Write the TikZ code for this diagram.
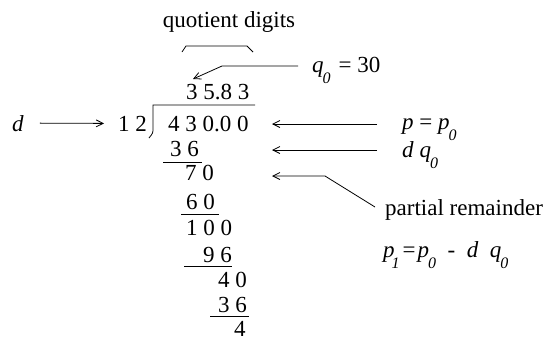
\documentclass[tikz,border=0pt]{standalone}
\usepackage{fontspec}
\setmainfont{Liberation Serif}
\usetikzlibrary{arrows.meta,positioning}
\newcommand{\lowidx}[1]{\kern-1pt\raisebox{-11pt}{\fontsize{16}{16}\selectfont\textit{#1}}}

\begin{document}
\begin{tikzpicture}[x=1pt,y=-1pt,
  row/.style={anchor=base west,inner sep=0pt,font=\fontsize{23}{27}\selectfont},
  lbl/.style={anchor=base west,inner sep=0pt,font=\fontsize{23}{27}\selectfont},
  conn/.style={-{Straight Barb[length=7pt,width=7pt]},line width=0.8pt},
  rule/.style={line width=0.8pt},
]
  \useasboundingbox (0,0) rectangle (545,341);

  % quotient bracket
  \node[lbl,anchor=base] (qd) at (229,27) {quotient digits};
  \draw[rule] (182,52) -- (186,46) -- (247,46) -- (253,52);

  % long division rows
  \node[row] (quot) at (186,99) {3 5.8 3};
  \node[row] (dvs) at (118,131) {1 2};
  \node[row] (dvd) at (168,131) {4 3 0.0 0};
  \node[row] (r1) at (170,156) {3 6};
  \node[row] (r2) at (185,180) {7 0};
  \node[row] (r3) at (186,209) {6 0};
  \node[row] (r4) at (186,235) {1 0 0};
  \node[row] (r5) at (203,262) {9 6};
  \node[row] (r6) at (218,287) {4 0};
  \node[row] (r7) at (218,312) {3 6};
  \node[row] (r8) at (234,336) {4};

  \draw[rule] (149,138) .. controls (153,133) .. (153,128) -- (153,105) -- (255,105);
  \draw[rule] (163,162) -- (202,162);
  \draw[rule] (181,214) -- (219,214);
  \draw[rule] (184,266) -- (232,266);
  \draw[rule] (210,316) -- (249,316);

  % labels on the right
  \node[lbl] (q0) at (312,72) {\textit{q}\lowidx{0}\hspace{8pt}= 30};
  \node[lbl] (dlab) at (12,131) {\textit{d}};
  \node[lbl] (pp) at (402,129) {\textit{p} = \textit{p}\lowidx{0}};
  \node[lbl] (dq) at (402,157) {\textit{d} \textit{q}\lowidx{0}};
  \node[lbl] (pr) at (385,215) {partial remainder};
  \node[lbl] (p1) at (383,257) {\textit{p}\kern-2pt\lowidx{1}\kern3pt=\kern2pt\textit{p}\lowidx{0}\ \ -\ \ \textit{d}\ \ \textit{q}\lowidx{0}};

  % arrows
  \coordinate (qtail) at (298,66);
  \coordinate (qbend) at (222,66);
  \coordinate (qtip) at (193,79);
  \draw[conn] (qtail) -- (qbend) -- (qtip);

  \draw[conn] ([xshift=16pt]dlab.east) -- ([xshift=-14pt]dvs.west);

  \coordinate (ptail) at (377,124);
  \coordinate (ptip) at (272,124);
  \draw[conn] (ptail) -- (ptip);

  \coordinate (dtail) at (377,150);
  \coordinate (dtip) at (272,150);
  \draw[conn] (dtail) -- (dtip);

  \coordinate (rtail) at (375,207);
  \coordinate (rbend) at (325,176);
  \coordinate (rtip) at (272,176);
  \draw[conn] (rtail) -- (rbend) -- (rtip);
\end{tikzpicture}
\end{document}
